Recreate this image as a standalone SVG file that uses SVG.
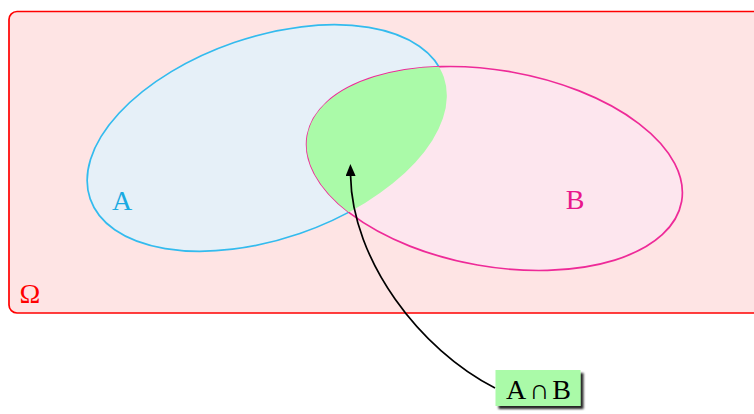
<svg xmlns="http://www.w3.org/2000/svg" width="754" height="414" viewBox="0 0 754 414">
  <style>
    .lbl { font-family: "Liberation Serif", "DejaVu Serif", serif; font-size: 28px; text-anchor: middle; }
    .edge { fill: none; stroke: #000; stroke-width: 1.7; }
  </style>
  <defs>
    <ellipse id="shapeA" cx="267" cy="138" rx="187" ry="101" transform="rotate(-19 267 138)"/>
    <ellipse id="shapeB" cx="494.5" cy="168.5" rx="190" ry="98" transform="rotate(10 494.5 168.5)"/>
    <clipPath id="clipA">
      <use href="#shapeA"/>
    </clipPath>
    <marker id="arrow" viewBox="0 0 12 10" refX="0" refY="5" markerUnits="userSpaceOnUse" markerWidth="12" markerHeight="10" orient="auto">
      <path d="M0,0 L12,5 L0,10 z" fill="#000"/>
    </marker>
    <filter id="shadow" x="-20%" y="-30%" width="150%" height="170%">
      <feDropShadow dx="3" dy="3" stdDeviation="1.3" flood-color="#000" flood-opacity="0.85"/>
    </filter>
  </defs>

  <!-- sample space -->
  <g id="omega">
    <rect x="9" y="11.5" width="760" height="301.5" rx="8" fill="#fee4e4" stroke="#ff0000" stroke-width="1.7"/>
    <text class="lbl" x="30" y="303" fill="#ff0000">Ω</text>
  </g>

  <!-- set A -->
  <g id="setA">
    <use href="#shapeA" fill="#e6f0f8" stroke="#33bbee" stroke-width="1.7"/>
    <text class="lbl" x="122" y="210" fill="#1aaae2">A</text>
  </g>

  <!-- set B -->
  <g id="setB">
    <use href="#shapeB" fill="#fde6ee" stroke="#ee2a98" stroke-width="1.7"/>
    <text class="lbl" x="575" y="209" fill="#e8168c">B</text>
  </g>

  <!-- A ∩ B region -->
  <g id="intersection">
    <use href="#shapeB" fill="#aafaa8" clip-path="url(#clipA)"/>
  </g>

  <!-- callout label -->
  <g id="label">
    <rect x="495.5" y="370" width="85" height="36" fill="#aafaa8" filter="url(#shadow)"/>
    <text class="lbl" x="506" y="399" fill="#000" style="text-anchor:start" textLength="65" lengthAdjust="spacing">A∩B</text>
  </g>

  <g id="connectors">
    <path class="edge" d="M495,388 C420,350 352,260 350.6,176" marker-end="url(#arrow)"/>
  </g>
</svg>
